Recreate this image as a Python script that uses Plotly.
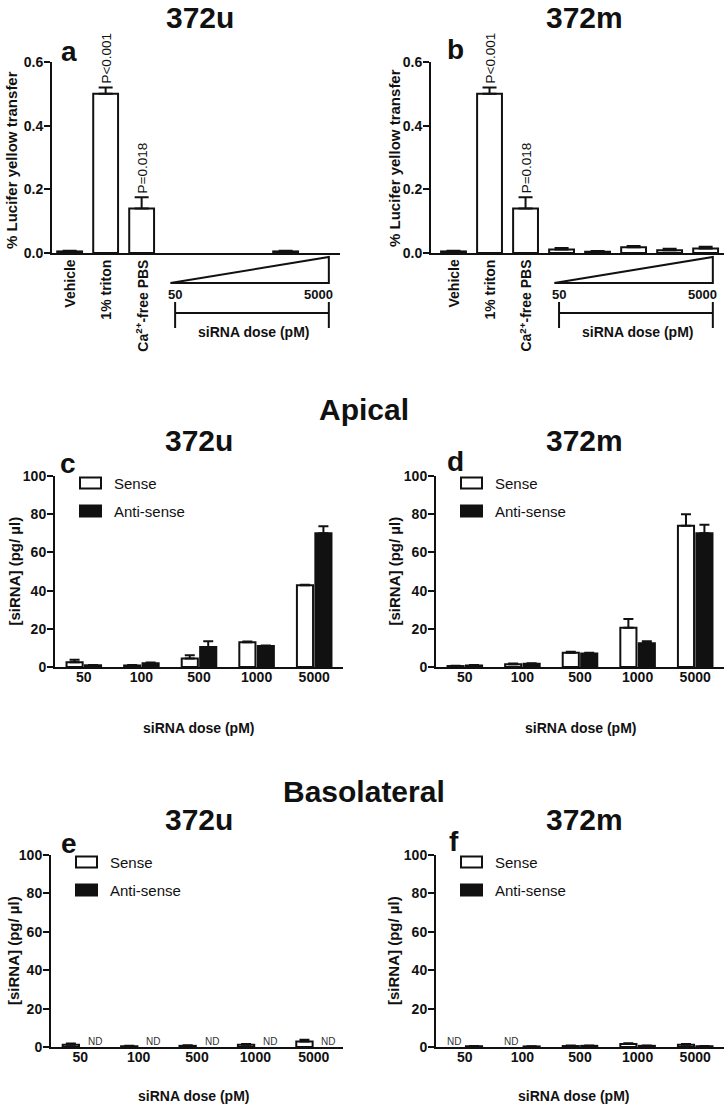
import plotly.graph_objects as go

# ---------------- data ----------------
ab_categories = ["Vehicle", "1% triton", "Ca<sup>2+</sup>-free PBS", "50", "100", "500", "1000", "5000"]
a_values = [0.005, 0.50, 0.14, None, None, None, 0.005, None]
a_errors = [0.002, 0.02, 0.035, 0, 0, 0, 0.002, 0]
b_values = [0.005, 0.50, 0.14, 0.011, 0.004, 0.018, 0.009, 0.014]
b_errors = [0.002, 0.02, 0.035, 0.005, 0.002, 0.004, 0.004, 0.006]
p_labels = ["P<0.001", "P=0.018"]

doses = ["50", "100", "500", "1000", "5000"]
c_sense = [2.5, 0.8, 4.5, 13.0, 42.8]
c_sense_err = [1.3, 0.2, 1.7, 0.3, 0.3]
c_anti = [0.9, 2.0, 10.5, 11.0, 70.0]
c_anti_err = [0.2, 0.4, 3.0, 0.3, 3.7]

d_sense = [0.5, 1.5, 7.5, 20.5, 74.0]
d_sense_err = [0.2, 0.3, 0.5, 4.6, 6.0]
d_anti = [0.8, 1.7, 7.1, 12.5, 70.0]
d_anti_err = [0.2, 0.3, 0.4, 1.0, 4.5]

e_sense = [1.2, 0.4, 0.6, 1.2, 2.8]
e_sense_err = [0.6, 0.2, 0.3, 0.4, 1.0]
e_anti = [None, None, None, None, None]          # ND
e_anti_err = [0, 0, 0, 0, 0]

f_sense = [None, None, 0.5, 1.5, 1.2]             # ND at 50, 100
f_sense_err = [0, 0, 0.3, 0.5, 0.4]
f_anti = [0.4, 0.3, 0.6, 0.6, 0.4]
f_anti_err = [0.1, 0.1, 0.2, 0.2, 0.1]

# ---------------- layout geometry (pixels) ----------------
W, H = 728, 1107
FONT = "Liberation Sans, Arial, sans-serif"
BLACK = "#111111"

# name: (x_left, x_right, y_top, y_bottom, xrange, yrange)
panels = {
    "a": (52, 340, 62, 253, [-0.49, 7.51], [0, 0.6]),
    "b": (431, 724, 62, 253, [-0.625, 7.51], [0, 0.6]),
    "c": (55, 343, 476, 667, [-0.5, 4.5], [0, 100]),
    "d": (436, 724, 476, 667, [-0.5, 4.5], [0, 100]),
    "e": (51, 343, 855, 1047, [-0.5, 4.5], [0, 100]),
    "f": (436, 724, 855, 1047, [-0.5, 4.5], [0, 100]),
}
order = ["a", "b", "c", "d", "e", "f"]


def pxp(x):
    return x / W


def pyp(y):
    return 1 - y / H


def cat2px(name, v):
    x0, x1, _, _, xr, _ = panels[name]
    return x0 + (v - xr[0]) / (xr[1] - xr[0]) * (x1 - x0)


fig = go.Figure()
annotations = []
shapes = []


def text(x, y, s, size, bold=True, xanchor="center", yanchor="middle", angle=0, color=BLACK):
    annotations.append(dict(
        x=pxp(x), y=pyp(y), xref="paper", yref="paper", text=s, showarrow=False,
        xanchor=xanchor, yanchor=yanchor, textangle=angle,
        font=dict(family=FONT, size=size, color=color, weight=700 if bold else 400),
    ))


def axis_ids(i):
    return ("x" if i == 0 else f"x{i+1}"), ("y" if i == 0 else f"y{i+1}")


# ---------------- axes ----------------
for i, name in enumerate(order):
    x0, x1, yt, yb, xr, yr = panels[name]
    xa, ya = axis_ids(i)
    xkey = "xaxis" if i == 0 else f"xaxis{i+1}"
    ykey = "yaxis" if i == 0 else f"yaxis{i+1}"
    is_ab = name in ("a", "b")
    xaxis = dict(
        domain=[pxp(x0), pxp(x1)], range=xr, anchor=ya, automargin=False,
        showline=True, linewidth=2, linecolor=BLACK, showgrid=False, zeroline=False,
        ticks="", fixedrange=True,
        tickfont=dict(family=FONT, size=14, color=BLACK, weight=700),
    )
    if is_ab:
        xaxis.update(type="linear", showticklabels=False)
    else:
        xaxis.update(type="category", ticklabelstandoff=-4)
    yaxis = dict(
        domain=[pyp(yb), pyp(yt)], range=yr, anchor=xa, automargin=False,
        showline=True, linewidth=2, linecolor=BLACK, showgrid=False, zeroline=False,
        ticks="outside", ticklen=6, tickwidth=2, tickcolor=BLACK, fixedrange=True,
        ticklabelstandoff=-2,
        tickfont=dict(family=FONT, size=14, color=BLACK, weight=700),
    )
    if is_ab:
        yaxis.update(tickvals=[0, 0.2, 0.4, 0.6], tickformat=".1f")
    else:
        yaxis.update(tickvals=[0, 20, 40, 60, 80, 100])
    fig.update_layout({xkey: xaxis, ykey: yaxis})

# ---------------- a / b bars ----------------
for i, (name, vals, errs) in enumerate([("a", a_values, a_errors), ("b", b_values, b_errors)]):
    xa, ya = axis_ids(i)
    fig.add_trace(go.Bar(
        x=list(range(len(ab_categories))), y=vals, width=0.69,
        marker=dict(color="white", line=dict(color=BLACK, width=2)),
        error_y=dict(type="data", symmetric=False, array=errs,
                     arrayminus=[0] * len(errs), color=BLACK, thickness=2, width=7),
        xaxis=xa, yaxis=ya, showlegend=False,
    ))

# ---------------- c-f grouped bars ----------------
grouped = [
    ("c", c_sense, c_sense_err, c_anti, c_anti_err),
    ("d", d_sense, d_sense_err, d_anti, d_anti_err),
    ("e", e_sense, e_sense_err, e_anti, e_anti_err),
    ("f", f_sense, f_sense_err, f_anti, f_anti_err),
]
for j, (name, s, se, an, ae) in enumerate(grouped):
    i = j + 2
    xa, ya = axis_ids(i)
    fig.add_trace(go.Bar(
        x=doses, y=s, name="Sense", offsetgroup="s",
        marker=dict(color="white", line=dict(color=BLACK, width=2)),
        error_y=dict(type="data", symmetric=False, array=se, arrayminus=[0] * 5,
                     color=BLACK, thickness=2, width=5),
        xaxis=xa, yaxis=ya, showlegend=False,
    ))
    fig.add_trace(go.Bar(
        x=doses, y=an, name="Anti-sense", offsetgroup="a",
        marker=dict(color=BLACK, line=dict(color=BLACK, width=2)),
        error_y=dict(type="data", symmetric=False, array=ae, arrayminus=[0] * 5,
                     color=BLACK, thickness=2, width=5),
        xaxis=xa, yaxis=ya, showlegend=False,
    ))

# ---------------- texts: headers ----------------
text(200, 18, "372u", 30)
text(584, 18, "372m", 30)
text(364, 409, "Apical", 30)
text(199, 440, "372u", 30)
text(584, 440, "372m", 30)
text(364, 791, "Basolateral", 30)
text(199, 819, "372u", 30)
text(584, 819, "372m", 30)

# panel letters
letter_pos = {"a": (69, 51), "b": (455, 49), "c": (68, 463), "d": (455, 461), "e": (69, 843), "f": (454, 841)}
for k, (x, y) in letter_pos.items():
    text(x, y, k, 28)

# y-axis titles
text(11, 160, "% Lucifer yellow transfer", 15, angle=-90)
text(395, 158, "% Lucifer yellow transfer", 15, angle=-90)
for name, xx in [("c", 14), ("d", 394), ("e", 13), ("f", 393)]:
    _, _, yt, yb, _, _ = panels[name]
    text(xx, (yt + yb) / 2, "[siRNA] (pg/ µl)", 15, angle=-90)

# x-axis titles c-f
for name, xx in [("c", 199), ("d", 580), ("e", 193), ("f", 573)]:
    yb = panels[name][3]
    off = 61 if name in ("c", "d") else 49
    text(xx, yb + off, "siRNA dose (pM)", 14)

# ---------------- a / b under-axis decorations ----------------
for name in ("a", "b"):
    yb = panels[name][3]
    for k in range(3):
        text(cat2px(name, k), yb + 5, ab_categories[k], 14, angle=-90, yanchor="top")
    # P value labels above the error bars
    vals = a_values if name == "a" else b_values
    errs = a_errors if name == "a" else b_errors
    _, _, yt, ybot, _, yr = panels[name]
    for k, lab in zip([1, 2], p_labels):
        top = vals[k] + errs[k]
        ypix = ybot - (top - yr[0]) / (yr[1] - yr[0]) * (ybot - yt)
        text(cat2px(name, k) + 1, ypix - 2, lab, 13.5, bold=False, angle=-90, yanchor="bottom")
    # dose wedge
    xl = cat2px(name, 2.8)
    xr_ = cat2px(name, 7.2)
    shapes.append(dict(
        type="path", xref="paper", yref="paper",
        path=f"M {pxp(xl)} {pyp(yb + 30)} L {pxp(xr_)} {pyp(yb + 4)} L {pxp(xr_)} {pyp(yb + 30)} Z",
        line=dict(color=BLACK, width=2), fillcolor="rgba(0,0,0,0)",
    ))
    text(cat2px(name, 2.93), yb + 41, "50", 13)
    text(cat2px(name, 6.9), yb + 41, "5000", 13)
    # bracket
    bl = cat2px(name, 2.93)
    shapes.append(dict(type="line", xref="paper", yref="paper",
                       x0=pxp(bl), x1=pxp(xr_), y0=pyp(yb + 60), y1=pyp(yb + 60),
                       line=dict(color=BLACK, width=2)))
    for xx in (bl, xr_):
        shapes.append(dict(type="line", xref="paper", yref="paper",
                           x0=pxp(xx), x1=pxp(xx), y0=pyp(yb + 49), y1=pyp(yb + 75),
                           line=dict(color=BLACK, width=2)))
    text(cat2px(name, 5.1), yb + 79, "siRNA dose (pM)", 14)

# ---------------- legends c-f ----------------
for name in ("c", "d", "e", "f"):
    x0, _, yt, _, _, _ = panels[name]
    bx = x0 + 25
    for r, (lab, fill) in enumerate([("Sense", "white"), ("Anti-sense", BLACK)]):
        cy = yt + 7 + r * 28
        shapes.append(dict(type="rect", xref="paper", yref="paper",
                           x0=pxp(bx), x1=pxp(bx + 21), y0=pyp(cy + 5.5), y1=pyp(cy - 5.5),
                           line=dict(color=BLACK, width=2), fillcolor=fill))
        text(bx + 32, cy, lab, 15, bold=False, xanchor="left")

# ---------------- ND markers ----------------
def nd_marks(name, values, shift):
    x0, x1, yt, yb, xr, yr = panels[name]
    for k, v in enumerate(values):
        if v is None:
            xx = cat2px(name, k + shift)
            text(xx, yb - 6, "ND", 10, bold=False, color="#333333")

nd_marks("e", e_anti, 0.25)
nd_marks("f", f_sense, -0.19)

fig.update_layout(
    width=W, height=H, margin=dict(l=0, r=0, t=0, b=0, pad=0, autoexpand=False),
    paper_bgcolor="white", plot_bgcolor="white",
    barmode="group", bargap=0.36, bargroupgap=0.125,
    annotations=annotations, shapes=shapes,
    font=dict(family=FONT, color=BLACK),
)

fig.write_html(
    "out.html",
    config={"displayModeBar": False},
    post_script="document.body.style.margin='0px';document.body.style.overflow='hidden';",
)
